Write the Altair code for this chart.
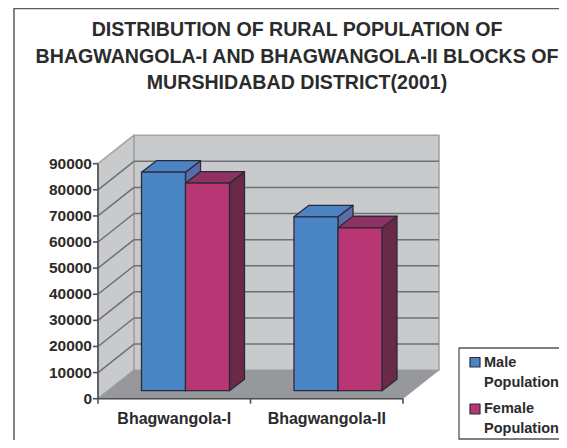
import altair as alt
import pandas as pd

title_lines = ["DISTRIBUTION OF RURAL POPULATION OF",
               "BHAGWANGOLA-I AND BHAGWANGOLA-II BLOCKS OF",
               "MURSHIDABAD DISTRICT(2001)"]
categories = ["Bhagwangola-I", "Bhagwangola-II"]
male = [83700, 66600]
female = [79500, 62400]
ticks = [0, 10000, 20000, 30000, 40000, 50000, 60000, 70000, 80000, 90000]
legend_labels = ["Male", "Population", "Female", "Population"]
FONT = "Liberation Sans"

# Canvas scales: one unit on x is one category band, y is population on the bar plane
W, H = 551, 432
PX_PER_BAND = 152.5
PX_PER_VAL = 235 / 90000
AX_X, AX_Y = 90, 382.7
xdom = [-AX_X / PX_PER_BAND, (W - AX_X) / PX_PER_BAND]
ydom = [-(H - AX_Y) / PX_PER_VAL, AX_Y / PX_PER_VAL]
xs = alt.Scale(domain=xdom, range=[0, W], nice=False, zero=False)
ys = alt.Scale(domain=ydom, range=[H, 0], nice=False, zero=False)

def U(px):
    return px / PX_PER_BAND
def V(px):
    return px / PX_PER_VAL

WX, WY = U(36), V(28.5)      # wall depth
BX = U(10)                   # bars stand this far in
DX, DY = U(15), V(11.5)      # bar depth
GAP, BARW = U(33.5), U(44)
NCAT = len(categories)
TOP = ticks[-1]
EDGE = "#2b2b38"
zero = -V(8)                 # front floor edge sits 8 px under the bar base

def fy(v):
    return v + zero

def poly(pts, fill, stroke, sw=1.3):
    """pts: list of (x, ytop, ybottom) sweeping left to right"""
    df = pd.DataFrame(pts, columns=["x", "y", "y2"])
    return alt.Chart(df).mark_area(orient="vertical", fill=fill, stroke=stroke, strokeWidth=sw, opacity=1,
                                   strokeJoin="round").encode(
        x=alt.X("x:Q", scale=xs, axis=None),
        y=alt.Y("y:Q", scale=ys, axis=None),
        y2="y2:Q",
    )

def segs(rows, color, sw):
    df = pd.DataFrame(rows, columns=["x", "y", "x2", "y2"])
    return alt.Chart(df).mark_rule(color=color, strokeWidth=sw).encode(
        x=alt.X("x:Q", scale=xs, axis=None), x2="x2:Q",
        y=alt.Y("y:Q", scale=ys, axis=None), y2="y2:Q")

WALL, WALLE = "#c9cacc", "#a3a4a6"
FLOOR = "#97989b"
GRID = "#6f7072"
layers = []

def lx(px):
    return U(px - 98)
def ly(py):
    return V(390.7 - py)

# outer frame
layers.append(segs([(lx(14), ly(8), lx(14), ly(440)), (lx(14), ly(8.5), lx(600), ly(8.5))], "#5a5a5a", 1.5))

# back wall, side wall, floor
layers.append(poly([(WX, fy(TOP) + WY, fy(0) + WY), (NCAT + WX, fy(TOP) + WY, fy(0) + WY)], WALL, WALLE, 1.6))
layers.append(poly([(0, fy(TOP), fy(0)), (WX, fy(TOP) + WY, fy(0) + WY)], WALL, WALLE, 1.6))
layers.append(poly([(0, fy(0), fy(0)), (WX, fy(0) + WY, fy(0)), (NCAT, fy(0) + WY, fy(0)),
                    (NCAT + WX, fy(0) + WY, fy(0) + WY)], FLOOR, FLOOR, 0.5))
# gridlines
layers.append(segs([(0, fy(t), WX, fy(t) + WY) for t in ticks[1:-1]], GRID, 1.5))
layers.append(segs([(WX, fy(t) + WY, NCAT + WX, fy(t) + WY) for t in ticks[1:-1]], GRID, 1.5))

def bar(left, value, front, top, side):
    right = left + BARW
    h = value
    return [
        poly([(right, h, 0), (right + DX, h + DY, DY)], side, EDGE),
        poly([(left, h, h), (left + DX, h + DY, h), (right, h + DY, h), (right + DX, h + DY, h + DY)], top, EDGE),
        poly([(left, h, 0), (right, h, 0)], front, EDGE),
    ]

for i in range(NCAT):
    l = i + BX + GAP
    layers += bar(l, male[i], "#4a86c6", "#4c83c3", "#5c6ba9")
    layers += bar(l + BARW, female[i], "#b93674", "#8f3162", "#6a2a47")

# axis lines and ticks
AXC = "#4d4e50"
layers.append(segs([(0, fy(0), 0, fy(TOP))], AXC, 1.6))
layers.append(segs([(0, fy(0), NCAT, fy(0))], AXC, 1.6))
layers.append(segs([(i, fy(0), i, fy(0) - V(5)) for i in range(NCAT + 1)], AXC, 1.6))
layers.append(segs([(0, fy(t), -U(5), fy(t)) for t in ticks], AXC, 1.6))

# tick labels
tl = pd.DataFrame({"x": [-U(6)] * len(ticks), "y": [fy(t) for t in ticks], "t": [str(t) for t in ticks]})
layers.append(alt.Chart(tl).mark_text(align="right", baseline="middle", font=FONT, fontWeight="bold",
                                      fontSize=15.5, color="#2b2b2b").encode(
    x=alt.X("x:Q", scale=xs, axis=None), y=alt.Y("y:Q", scale=ys, axis=None), text="t:N"))
cl = pd.DataFrame({"x": [i + 0.5 for i in range(NCAT)], "y": [fy(0) - V(20)] * NCAT, "t": categories})
layers.append(alt.Chart(cl).mark_text(align="center", baseline="middle", font=FONT, fontWeight="bold",
                                      fontSize=16, color="#2b2b2b").encode(
    x=alt.X("x:Q", scale=xs, axis=None), y=alt.Y("y:Q", scale=ys, axis=None), text="t:N"))

# legend box
layers.append(poly([(lx(459), ly(348), ly(439)), (lx(600), ly(348), ly(439))], "#ffffff", "#555555", 1.3))
layers.append(poly([(lx(470), ly(357.5), ly(367)), (lx(480), ly(357.5), ly(367))], "#4a86c6", EDGE, 1.2))
layers.append(poly([(lx(470), ly(404), ly(414)), (lx(480), ly(404), ly(414))], "#b93674", EDGE, 1.2))
leg = pd.DataFrame({"x": [lx(484)] * 4, "y": [ly(367), ly(387), ly(413), ly(433)], "t": legend_labels})
layers.append(alt.Chart(leg).mark_text(align="left", baseline="alphabetic", font=FONT, fontWeight="bold",
                                       fontSize=14.5, color="#2b2b2b").encode(
    x=alt.X("x:Q", scale=xs, axis=None), y=alt.Y("y:Q", scale=ys, axis=None), text="t:N"))

chart = alt.layer(*layers).properties(
    width=W, height=H,
    title=alt.TitleParams(text=title_lines, font=FONT, fontWeight="bold", fontSize=19.6, color="#2b2b2b",
                          anchor="middle", dx=13.5, dy=86.5, lineHeight=26.5, offset=0),
    padding=0, autosize=alt.AutoSizeParams(type="none"),
).configure_view(stroke=None)

chart.save("out.html", embed_options={"renderer": "svg", "actions": False})
